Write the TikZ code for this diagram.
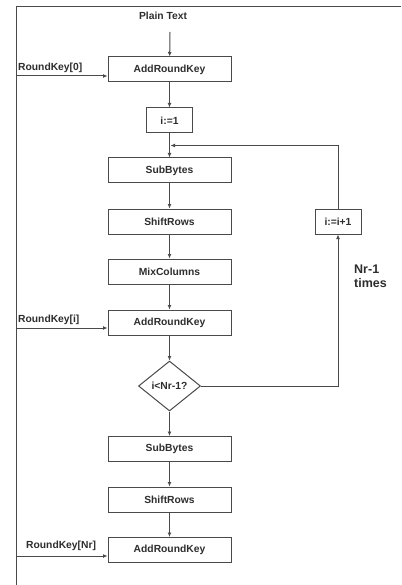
\documentclass[tikz,border=0pt]{standalone}
\usepackage{fontspec}
\setmainfont{Liberation Sans}
\usetikzlibrary{arrows.meta,shapes.geometric}
\definecolor{ink}{HTML}{2E2E2E}
\definecolor{wire}{HTML}{4A4A4A}
\tikzset{
  stepbox/.style={draw=wire, line width=1pt, minimum width=123pt, minimum height=25pt,
    inner sep=0pt, font=\fontsize{10.3}{12}\selectfont\bfseries, text=ink},
  smallbox/.style={stepbox, minimum width=46pt},
  decision/.style={diamond, draw=wire, line width=1pt, minimum width=62pt, minimum height=50pt,
    inner sep=0pt, font=\fontsize{10.3}{12}\selectfont\bfseries, text=ink},
  lbl/.style={inner sep=0pt, font=\fontsize{10.3}{12}\selectfont\bfseries, text=ink},
  arr/.style={draw=wire, line width=1pt, -{Latex[length=4.5pt,width=4pt]}},
  wireline/.style={draw=wire, line width=1pt},
}
\begin{document}
\begin{tikzpicture}[x=1pt,y=-1pt]
  \useasboundingbox (0,0) rectangle (401,585);
  \fill[white] (0,0) rectangle (401,585);
  % outer frame: top and left edges
  \draw[wireline] (401,7) -- (16,7) -- (16,585);

  % main column
  \node[lbl] (pt) at (163,16) {Plain Text};
  \coordinate (ptout) at (170,32);
  \node[stepbox] (ark1) at (169.5,69.5) {AddRoundKey};
  \node[smallbox] (init) at (169.5,120.5) {i:=1};
  \node[stepbox] (sb1) at (169.5,170.5) {SubBytes};
  \node[stepbox] (sr1) at (169.5,221.5) {ShiftRows};
  \node[stepbox] (mc) at (169.5,271.5) {MixColumns};
  \node[stepbox] (ark2) at (169.5,322.5) {AddRoundKey};
  \node[decision] (test) at (169.5,386) {i<Nr-1?};
  \node[stepbox] (sb2) at (169.5,449) {SubBytes};
  \node[stepbox] (sr2) at (169.5,499.5) {ShiftRows};
  \node[stepbox] (ark3) at (169.5,550) {AddRoundKey};

  % loop counter
  \node[smallbox] (inc) at (338,221.5) {i:=i+1};
  \coordinate (loopin) at (169.5,145.5);
  \node[lbl, align=left, anchor=west, font=\fontsize{12.5}{14}\selectfont\bfseries] (times) at (354,276.5) {Nr-1\\times};

  % round keys
  \node[lbl, anchor=west] (k0lbl) at (18,68) {RoundKey[0]};
  \node[lbl, anchor=west] (kilbl) at (18,320) {RoundKey[i]};
  \node[lbl, anchor=west] (knlbl) at (26,546) {RoundKey[Nr]};
  \coordinate (k0) at (16,76);
  \coordinate (ki) at (16,328);
  \coordinate (kn) at (16,556);
  \draw[arr] (k0) -- (ark1.west |- k0);
  \draw[arr] (ki) -- (ark2.west |- ki);
  \draw[arr] (kn) -- (ark3.west |- kn);

  % flow
  \draw[arr] (ptout) -- (ark1);
  \draw[arr] (ark1) -- (init);
  \draw[arr] (init) -- (sb1);
  \draw[arr] (sb1) -- (sr1);
  \draw[arr] (sr1) -- (mc);
  \draw[arr] (mc) -- (ark2);
  \draw[arr] (ark2) -- (test);
  \draw[arr] (test) -- (sb2);
  \draw[arr] (sb2) -- (sr2);
  \draw[arr] (sr2) -- (ark3);

  % loop back
  \draw[arr] (test.east) -| (inc.south);
  \draw[arr] (inc.north) |- ([xshift=1pt]loopin);
\end{tikzpicture}
\end{document}
